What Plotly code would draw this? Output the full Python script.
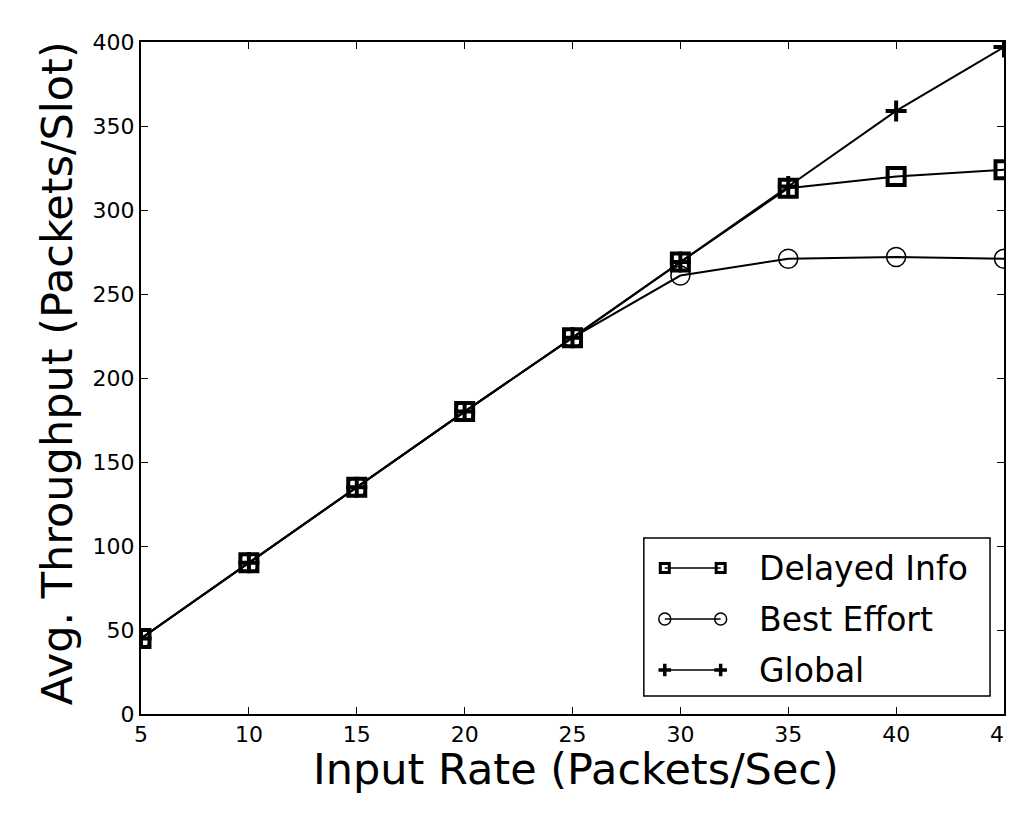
import plotly.graph_objects as go

# ---- data ----
input_rate = [5, 10, 15, 20, 25, 30, 35, 40, 45]
delayed_info = [45, 90, 135, 180, 224, 269, 313, 320, 324]
best_effort = [45, 90, 135, 180, 224, 261, 271, 272, 271]
global_tp = [45, 90, 135, 180, 224, 269, 314, 359, 397]

x_ticks = [5, 10, 15, 20, 25, 30, 35, 40, 45]
y_ticks = [0, 50, 100, 150, 200, 250, 300, 350, 400]

series_names = ["Delayed Info", "Best Effort", "Global"]

# ---- layout geometry (screen pixels; page body has an 8px margin) ----
OFF = 8
W, H = 1006, 830
L, R, T, B = 141 - OFF, 1006 - OFF, 42 - OFF, 714 - OFF

FONT = "DejaVu Sans, Verdana, sans-serif"


def px(x):
    return (x - OFF - L) / (R - L)


def py(y):
    return (B - (y - OFF)) / (B - T)


fig = go.Figure()

styles = [
    dict(symbol="square-open", size=17, line=dict(width=4, color="black")),
    dict(symbol="circle-open", size=19, line=dict(width=1.5, color="black")),
    dict(symbol="cross-thin-open", size=15, line=dict(width=4, color="black")),
]
for name, ys, st in zip(series_names, [delayed_info, best_effort, global_tp], styles):
    fig.add_trace(go.Scatter(
        x=input_rate, y=ys, name=name, mode="lines+markers",
        line=dict(color="black", width=2),
        marker=dict(color="black", **st),
        showlegend=False, cliponaxis=True,
    ))

# ---- custom matplotlib-style legend ----
legend_box = (645, 538, 992, 696)
row_y = [568, 619, 670]
key_x = (666, 722)
text_x = 758
legend_styles = [
    dict(symbol="square-open", size=9, line=dict(width=3, color="black")),
    dict(symbol="circle-open", size=12, line=dict(width=1.5, color="black")),
    dict(symbol="cross-thin-open", size=9, line=dict(width=3.5, color="black")),
]
shapes = [dict(type="rect", xref="paper", yref="paper",
               x0=px(legend_box[0]), x1=px(legend_box[2]),
               y0=py(legend_box[3]), y1=py(legend_box[1]),
               line=dict(color="black", width=1.5), fillcolor="white", layer="below")]
annotations = []
for name, ry, st in zip(series_names, row_y, legend_styles):
    fig.add_trace(go.Scatter(
        x=[px(key_x[0]), px(key_x[1])], y=[py(ry), py(ry)],
        mode="lines+markers", line=dict(color="black", width=1.5),
        marker=dict(color="black", **st), xaxis="x2", yaxis="y2",
        showlegend=False, hoverinfo="skip", cliponaxis=False,
    ))
    annotations.append(dict(
        x=px(text_x), y=py(ry), xref="paper", yref="paper",
        text=name, showarrow=False, xanchor="left", yanchor="middle",
        font=dict(family=FONT, size=33, color="black"),
    ))

# last x tick label sits on the figure edge (clipped, as in the original)
annotations.append(dict(
    x=x_ticks[-1], y=py(720), xref="x", yref="paper", text=str(x_ticks[-1]),
    showarrow=False, xanchor="center", yanchor="top",
    font=dict(family=FONT, size=22, color="black")))

# axis titles
annotations.append(dict(
    x=px(577), y=py(769), xref="paper", yref="paper", text="Input Rate (Packets/Sec)",
    showarrow=False, xanchor="center", yanchor="middle",
    font=dict(family=FONT, size=43, color="black")))
annotations.append(dict(
    x=px(57), y=py(373), xref="paper", yref="paper", text="Avg. Throughput (Packets/Slot)",
    showarrow=False, xanchor="center", yanchor="middle", textangle=-90,
    font=dict(family=FONT, size=43, color="black")))

axis_common = dict(
    showgrid=False, zeroline=False, showline=True, linecolor="black", linewidth=2,
    mirror="allticks", ticks="inside", ticklen=7, tickwidth=1, tickcolor="black",
    tickfont=dict(family=FONT, size=22, color="black"),
)

fig.update_layout(
    width=W, height=H,
    margin=dict(l=L, r=W - R, t=T, b=H - B),
    paper_bgcolor="white", plot_bgcolor="white",
    xaxis=dict(range=[5, 45], tickvals=x_ticks, ticktext=[str(v) for v in x_ticks], **axis_common),
    yaxis=dict(range=[0, 400], tickvals=y_ticks, ticktext=[str(v) for v in y_ticks], **axis_common),
    xaxis2=dict(range=[0, 1], overlaying="x", visible=False, anchor="y2"),
    yaxis2=dict(range=[0, 1], overlaying="y", visible=False, anchor="x2"),
    shapes=shapes, annotations=annotations,
    showlegend=False,
)

fig.write_html("out.html")
